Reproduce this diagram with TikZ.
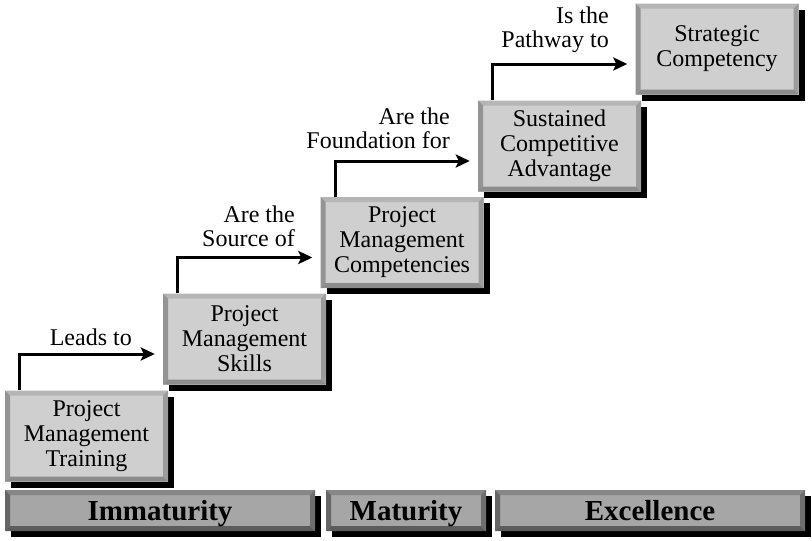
\documentclass[tikz,border=0pt]{standalone}
\usepackage{fontspec}
\setmainfont{Liberation Serif}
\usetikzlibrary{arrows.meta}
\usetikzlibrary{shadows}
\usetikzlibrary{positioning}

\definecolor{boxface}{gray}{0.81}
\definecolor{boxtop}{gray}{0.71}
\definecolor{boxleft}{gray}{0.58}
\definecolor{boxright}{gray}{0.61}
\definecolor{boxbottom}{gray}{0.55}
\definecolor{barface}{gray}{0.65}
\definecolor{bartop}{gray}{0.53}
\definecolor{barleft}{gray}{0.40}
\definecolor{barright}{gray}{0.43}
\definecolor{barbottom}{gray}{0.36}

\begin{document}
\begin{tikzpicture}[x=1pt, y=-1pt,
    bevel/.style n args={5}{fill=#1,
      path picture={
        \fill[#2] (path picture bounding box.north west) -- (path picture bounding box.north east)
          -- ([shift={(-5pt,-5pt)}]path picture bounding box.north east)
          -- ([shift={(5pt,-5pt)}]path picture bounding box.north west) -- cycle;
        \fill[#3] (path picture bounding box.north west) -- (path picture bounding box.south west)
          -- ([shift={(5pt,5pt)}]path picture bounding box.south west)
          -- ([shift={(5pt,-5pt)}]path picture bounding box.north west) -- cycle;
        \fill[#4] (path picture bounding box.north east) -- (path picture bounding box.south east)
          -- ([shift={(-5pt,5pt)}]path picture bounding box.south east)
          -- ([shift={(-5pt,-5pt)}]path picture bounding box.north east) -- cycle;
        \fill[#5] (path picture bounding box.south west) -- (path picture bounding box.south east)
          -- ([shift={(-5pt,5pt)}]path picture bounding box.south east)
          -- ([shift={(5pt,5pt)}]path picture bounding box.south west) -- cycle;
      }},
    stage/.style={bevel={boxface}{boxtop}{boxleft}{boxright}{boxbottom},
      drop shadow={shadow xshift=6pt, shadow yshift=-6pt, fill=black, opacity=1},
      minimum width=163pt, minimum height=91pt, inner sep=0pt, align=center,
      font=\fontsize{24}{25}\selectfont},
    level/.style={bevel={barface}{bartop}{barleft}{barright}{barbottom},
      drop shadow={shadow xshift=6pt, shadow yshift=-6pt, fill=black, opacity=1},
      minimum height=41pt, inner sep=0pt, text height=22pt, text depth=2pt,
      font=\fontsize{29}{30}\selectfont\bfseries},
    flow/.style={line width=3pt, -{Stealth[length=14pt, width=13pt, inset=3pt]}, shorten >=8pt},
    step label/.style={anchor=east, inner sep=0pt, align=right, font=\fontsize{24}{24}\selectfont}
  ]
  \useasboundingbox (0,0) rectangle (812,541);

  % Draw the staircase of stages
  \node[stage] (training) at (86.5,436) {Project\\Management\\Training};
  \node[stage] (skills) at (244.5,339) {Project\\Management\\Skills};
  \node[stage] (competencies) at (402,242.5) {Project\\Management\\Competencies};
  \node[stage] (advantage) at (559.5,146) {Sustained\\Competitive\\Advantage};
  \node[stage] (strategic) at (717,49) {Strategic\\Competency};

  % Maturity levels along the bottom
  \node[level, minimum width=310pt] (immaturity) at (160,510.5) {Immaturity};
  \node[level, minimum width=160pt] (maturity) at (406,510.5) {Maturity};
  \node[level, minimum width=310pt] (excellence) at (650,510.5) {Excellence};

  % Arrows between the stages
  \draw[flow] ([xshift=15pt]training.north west) |- ([yshift=-15pt]skills.west);
  \draw[flow] ([xshift=15pt]skills.north west) |- ([yshift=-15pt]competencies.west);
  \draw[flow] ([xshift=15pt]competencies.north west) |- ([yshift=-15pt]advantage.west);
  \draw[flow] ([xshift=15pt]advantage.north west) |- ([yshift=-15pt]strategic.west);

  % Labels
  \node[step label] (leads) at (132,337) {Leads to};
  \node[step label] (source) at (295,226) {Are the\\Source of};
  \node[step label] (foundation) at (450,128) {Are the\\Foundation for};
  \node[step label] (pathway) at (609,30) {Is the\\Pathway to};
\end{tikzpicture}
\end{document}
